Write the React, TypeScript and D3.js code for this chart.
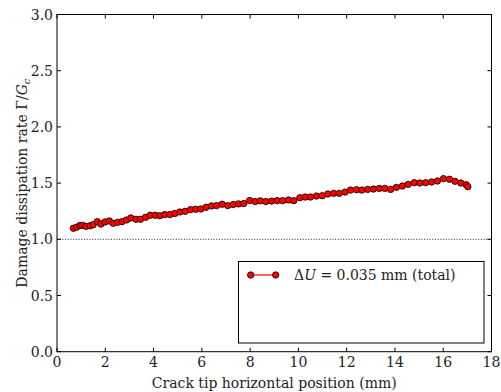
import React from "react";
import * as d3 from "d3";

const xs = [0.68,0.81,0.95,1.06,1.20,1.37,1.50,1.67,1.82,1.99,2.17,2.33,2.51,2.69,2.88,3.06,3.27,3.46,3.67,3.86,4.07,4.26,4.47,4.68,4.88,5.09,5.31,5.53,5.74,5.96,6.18,6.40,6.61,6.84,7.07,7.30,7.52,7.74,7.98,8.21,8.42,8.65,8.89,9.12,9.35,9.59,9.81,10.06,10.28,10.50,10.75,10.99,11.22,11.46,11.69,11.93,12.16,12.41,12.63,12.87,13.11,13.35,13.58,13.82,14.06,14.31,14.55,14.80,15.03,15.27,15.52,15.76,16.01,16.26,16.49,16.73,16.95,17.02];
const ys = [1.098,1.107,1.124,1.124,1.115,1.12,1.13,1.157,1.136,1.154,1.163,1.142,1.151,1.157,1.172,1.19,1.178,1.178,1.196,1.214,1.214,1.21,1.22,1.22,1.23,1.243,1.249,1.264,1.267,1.27,1.285,1.297,1.3,1.312,1.3,1.309,1.315,1.318,1.345,1.336,1.342,1.336,1.34,1.344,1.344,1.35,1.344,1.37,1.376,1.376,1.385,1.388,1.403,1.409,1.409,1.42,1.438,1.441,1.438,1.444,1.447,1.453,1.453,1.444,1.462,1.474,1.489,1.504,1.501,1.504,1.51,1.519,1.54,1.534,1.516,1.501,1.486,1.468];
const xTicks = [0, 2, 4, 6, 8, 10, 12, 14, 16, 18];
const yTicks = [0.0, 0.5, 1.0, 1.5, 2.0, 2.5, 3.0];
const refLine = 1.0;

const W = 501, H = 392;
const L = 57, R = 491.5, T = 14.5, B = 351.7;
const FONT = "'DejaVu Serif', serif";

export default function App() {
  const x = d3.scaleLinear().domain([0, 18]).range([L, R]);
  const y = d3.scaleLinear().domain([0, 3]).range([B, T]);
  const pts = xs.map((v, i) => [v, ys[i]] as [number, number]);
  const line = d3.line<[number, number]>().x(d => x(d[0])).y(d => y(d[1]));
  const tl = 4;
  const fs = { fontFamily: FONT, fontSize: 14, fill: "#222" } as React.CSSProperties;
  return (
    <svg width={W} height={H} style={{ position: "absolute", left: 0, top: 0, background: "#fff" }}>
      <rect x={0} y={0} width={W} height={H} fill="#fff" />
      <line x1={L} x2={R} y1={y(refLine)} y2={y(refLine)} stroke="#222" strokeWidth={1} strokeDasharray="1 1.7" />
      <path d={line(pts) || ""} fill="none" stroke="red" strokeWidth={1} />
      {pts.map((p, i) => (
        <circle key={i} cx={x(p[0])} cy={y(p[1])} r={3.2} fill="red" stroke="#000" strokeWidth={0.8} />
      ))}
      <rect x={L} y={T} width={R - L} height={B - T} fill="none" stroke="#000" strokeWidth={1} />
      {xTicks.map(t => (
        <g key={"x" + t}>
          <line x1={x(t)} x2={x(t)} y1={B} y2={B - tl} stroke="#000" />
          <line x1={x(t)} x2={x(t)} y1={T} y2={T + tl} stroke="#000" />
          <text x={x(t)} y={367} textAnchor="middle" style={fs}>{t}</text>
        </g>
      ))}
      {yTicks.map(t => (
        <g key={"y" + t}>
          <line x1={L} x2={L + tl} y1={y(t)} y2={y(t)} stroke="#000" />
          <line x1={R} x2={R - tl} y1={y(t)} y2={y(t)} stroke="#000" />
          <text x={53} y={y(t) + 5} textAnchor="end" style={fs}>{t.toFixed(1)}</text>
        </g>
      ))}
      <text x={(L + R) / 2} y={388} textAnchor="middle" style={fs}>Crack tip horizontal position (mm)</text>
      <text transform={`translate(27, ${(T + B) / 2}) rotate(-90)`} textAnchor="middle" style={fs}>
        Damage dissipation rate Γ/<tspan fontStyle="italic">G</tspan><tspan fontStyle="italic" style={{ fontSize: 10 }} dy={3}>c</tspan>
      </text>
      <rect x={238.5} y={261.5} width={245.5} height={81.5} fill="#fff" stroke="#000" strokeWidth={1} />
      <line x1={250.7} x2={275.7} y1={275} y2={275} stroke="red" strokeWidth={1.2} />
      <circle cx={250.7} cy={275} r={3.2} fill="red" stroke="#000" strokeWidth={0.8} />
      <circle cx={275.7} cy={275} r={3.2} fill="red" stroke="#000" strokeWidth={0.8} />
      <text x={294} y={280} style={fs}>Δ<tspan fontStyle="italic">U</tspan> = 0.035 mm (total)</text>
    </svg>
  );
}
